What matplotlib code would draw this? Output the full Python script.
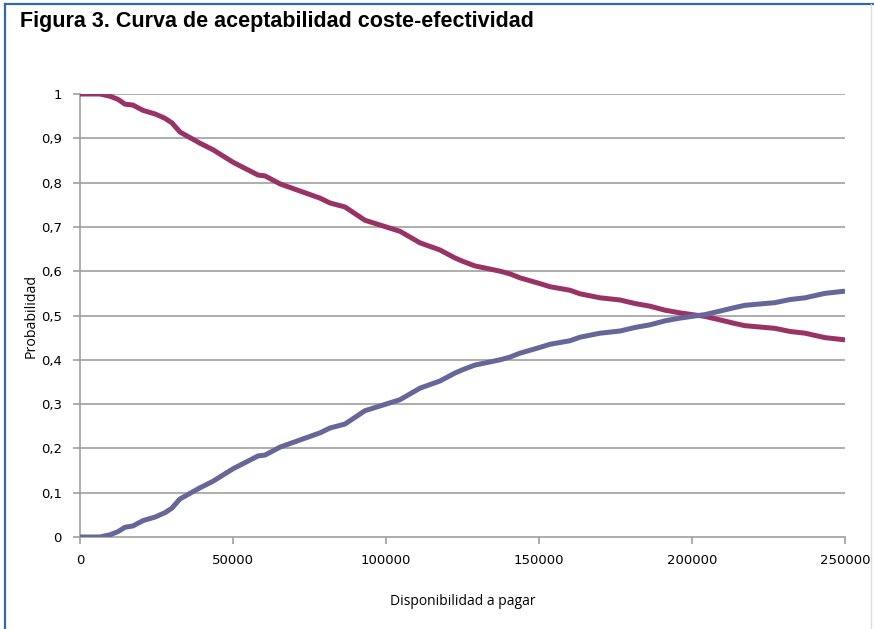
import matplotlib
matplotlib.use("Agg")
import matplotlib.pyplot as plt
from matplotlib.lines import Line2D

# disponibilidad a pagar (euros)
wtp = [0, 6500, 9800, 12400, 14700, 17300, 20600, 24500, 27800, 30000, 32700,
       39200, 43500, 50000, 58200, 60500, 65400, 71900, 78400, 81700, 86600,
       90500, 93100, 100000, 104600, 111100, 117600, 122500, 125200, 129000,
       137300, 140500, 143800, 150300, 153600, 160100, 163400, 169900, 176500,
       181400, 186300, 191200, 196000, 200000, 204200, 209200, 214000, 217300,
       222200, 227100, 232000, 237000, 240200, 243500, 250000]

prob_a = [1.0, 1.0, 0.995, 0.988, 0.977, 0.975, 0.963, 0.955, 0.945, 0.935, 0.914,
          0.889, 0.874, 0.846, 0.817, 0.815, 0.797, 0.781, 0.765, 0.754, 0.745,
          0.727, 0.715, 0.700, 0.690, 0.664, 0.648, 0.630, 0.622, 0.612,
          0.600, 0.594, 0.585, 0.572, 0.565, 0.557, 0.549, 0.540, 0.535,
          0.527, 0.521, 0.512, 0.506, 0.502, 0.498, 0.490, 0.482, 0.477,
          0.474, 0.471, 0.464, 0.460, 0.455, 0.450, 0.445]

prob_b = [0.0, 0.0, 0.005, 0.012, 0.022, 0.025, 0.037, 0.045, 0.055, 0.065, 0.086,
          0.111, 0.126, 0.154, 0.183, 0.185, 0.203, 0.219, 0.235, 0.246, 0.255,
          0.273, 0.285, 0.300, 0.310, 0.336, 0.352, 0.370, 0.378, 0.388,
          0.400, 0.406, 0.415, 0.428, 0.435, 0.443, 0.451, 0.460, 0.465,
          0.473, 0.479, 0.488, 0.494, 0.498, 0.502, 0.510, 0.518, 0.523,
          0.526, 0.529, 0.536, 0.540, 0.545, 0.550, 0.555]

yticks = [0, 0.1, 0.2, 0.3, 0.4, 0.5, 0.6, 0.7, 0.8, 0.9, 1]
ytick_labels = ["0", "0,1", "0,2", "0,3", "0,4", "0,5", "0,6", "0,7", "0,8", "0,9", "1"]
xticks = [0, 50000, 100000, 150000, 200000, 250000]

W, H = 874, 629
fig = plt.figure(figsize=(W / 100, H / 100), dpi=100)
ax = fig.add_axes([80 / W, (H - 537) / H, (845 - 80) / W, (537 - 94) / H])

grey = "#a0a0a0"
for y in yticks[1:]:
    ax.axhline(y, color=grey, lw=1.2, zorder=1)

ax.plot(wtp, prob_a, color="#993366", lw=3.6, solid_capstyle="butt", zorder=3)
ax.plot(wtp, prob_b, color="#666699", lw=3.6, solid_capstyle="butt", zorder=3)

ax.set_xlim(0, 250000)
ax.set_ylim(0, 1)
ax.set_xticks(xticks)
ax.set_xticklabels([str(x) for x in xticks])
ax.set_yticks(yticks)
ax.set_yticklabels(ytick_labels)

for s in ["top", "right"]:
    ax.spines[s].set_visible(False)
for s in ["left", "bottom"]:
    ax.spines[s].set_color(grey)
    ax.spines[s].set_linewidth(1.2)
ax.tick_params(colors=grey, labelcolor="black", labelsize=9.5, length=5, width=1.2)
ax.tick_params(axis="x", pad=7)
ax.tick_params(axis="y", pad=8)

ax.set_xlabel("Disponibilidad a pagar", fontsize=10, family="Open Sans", labelpad=20)
ax.set_ylabel("Probabilidad", fontsize=10.2, family="Open Sans", labelpad=2)

fig.text(20 / W, 1 - 21 / H, "Figura 3. Curva de aceptabilidad coste-efectividad",
         fontsize=15.5, fontweight="bold", family="Liberation Sans", va="center", ha="left")

# marco de la figura
fig.add_artist(Line2D([5 / W, 5 / W], [0, 1 - 4 / H], color="#2e6aa8", lw=1.6))
fig.add_artist(Line2D([5 / W, 1], [1 - 4 / H, 1 - 4 / H], color="#2e6aa8", lw=1.6))
fig.add_artist(Line2D([871 / W, 871 / W], [0, 1 - 4 / H], color="#dddddd", lw=1))

fig.savefig("out.png", dpi=100)
